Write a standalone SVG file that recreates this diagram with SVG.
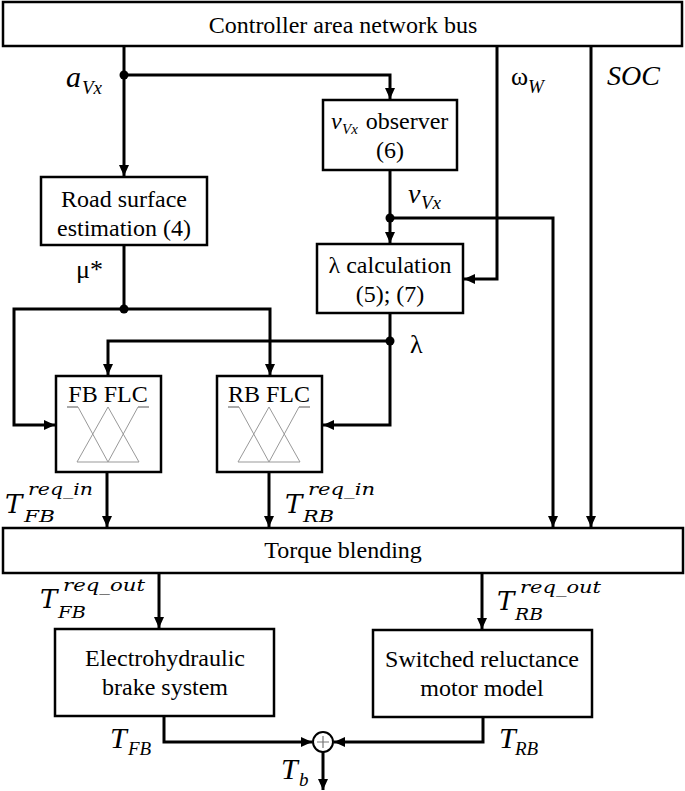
<svg xmlns="http://www.w3.org/2000/svg" width="685" height="791" viewBox="0 0 685 791">
<defs>
<marker id="ah" markerUnits="userSpaceOnUse" markerWidth="12" markerHeight="10" refX="11" refY="5" orient="auto">
<path d="M0,0 L11,5 L0,10 z" fill="#000"/>
</marker>
<style>
.box{fill:#fff;stroke:#000;stroke-width:2.5}
.ln{fill:none;stroke:#000;stroke-width:3}
.ar{fill:none;stroke:#000;stroke-width:3;marker-end:url(#ah)}
.t{font-family:"Liberation Serif","Times New Roman",Times,"DejaVu Serif",serif;font-size:24px;fill:#000;text-anchor:middle}
.it{font-family:"Liberation Serif","Times New Roman",Times,"DejaVu Serif",serif;font-style:italic;fill:#000}
.rm{font-family:"Liberation Serif","Times New Roman",Times,"DejaVu Serif",serif;fill:#000}
.cm{font-family:"DejaVu Serif",serif;font-style:italic;fill:#000}
.mf{fill:none;stroke:#999;stroke-width:1}
.sh{fill:none;stroke:#aaa;stroke-width:2}
</style>
</defs>
<g id="connectors">
<path class="ar" d="M124,46 V176"/>
<path class="ar" d="M124,75 H390 V99"/>
<path class="ar" d="M497,46 V279 H464"/>
<path class="ar" d="M591,46 V527"/>
<path class="ar" d="M390,170 V243"/>
<path class="ar" d="M390,218 H553 V527"/>
<path class="ln" d="M124,245 V309"/>
<path class="ar" d="M124,309 H14 V425 H55"/>
<path class="ar" d="M124,309 H270 V375"/>
<path class="ar" d="M390,313 V425 H323"/>
<path class="ar" d="M390,341 H108 V375"/>
<path class="ar" d="M107,472 V527"/>
<path class="ar" d="M269,472 V527"/>
<path class="ar" d="M159,573 V628"/>
<path class="ar" d="M482,573 V629"/>
<path class="ar" d="M164,716 V742 H312"/>
<path class="ar" d="M483,717 V742 H334"/>
<path class="ar" d="M323,752 V790"/>
<circle cx="124" cy="75" r="4.5" fill="#000"/>
<circle cx="390" cy="218" r="4.5" fill="#000"/>
<circle cx="124" cy="309" r="4.5" fill="#000"/>
<circle cx="390" cy="341" r="4.5" fill="#000"/>
</g>
<g id="can">
<rect class="box" x="3" y="2" width="679" height="44"/>
<text class="t" x="343" y="33">Controller area network bus</text>
</g>
<g id="observer">
<rect class="box" x="323" y="100" width="134" height="70"/>
<text class="it" x="331" y="129" font-size="24">v</text>
<text class="it" x="342" y="134" font-size="15">Vx</text>
<text class="t" x="407" y="129">observer</text>
<text class="t" x="390" y="158">(6)</text>
</g>
<g id="road">
<rect class="box" x="41" y="177" width="166" height="68"/>
<text class="t" x="124" y="207">Road surface</text>
<text class="t" x="124" y="236">estimation (4)</text>
</g>
<g id="lambda">
<rect class="box" x="317" y="244" width="146" height="69"/>
<text class="t" x="390" y="273">λ calculation</text>
<text class="t" x="390" y="302">(5); (7)</text>
</g>
<g id="fbflc">
<rect class="box" x="56" y="376" width="105" height="96"/>
<text class="t" x="108" y="402">FB FLC</text>
<path class="sh" d="M67,407 H78"/>
<path class="sh" d="M138,407 H149"/>
<path class="mf" d="M78,407 L108,462 M77,462 L108,407 L139,462 M108,462 L138,407 M77,462 H139"/>
</g>
<g id="rbflc">
<rect class="box" x="217" y="376" width="105" height="96"/>
<text class="t" x="269" y="402">RB FLC</text>
<path class="sh" d="M228,407 H239"/>
<path class="sh" d="M299,407 H310"/>
<path class="mf" d="M239,407 L269,462 M238,462 L269,407 L300,462 M269,462 L299,407 M238,462 H300"/>
</g>
<g id="blending">
<rect class="box" x="3" y="528" width="680" height="45"/>
<text class="t" x="343" y="558">Torque blending</text>
</g>
<g id="ehb">
<rect class="box" x="55" y="629" width="219" height="87"/>
<text class="t" x="165" y="666">Electrohydraulic</text>
<text class="t" x="165" y="695">brake system</text>
</g>
<g id="srm">
<rect class="box" x="373" y="630" width="219" height="87"/>
<text class="t" x="482" y="667">Switched reluctance</text>
<text class="t" x="482" y="696">motor model</text>
</g>
<g id="sum">
<circle cx="323" cy="742" r="10" fill="#fff" stroke="#000" stroke-width="2"/>
<path d="M317,742 H329 M323,736 V748" stroke="#777" stroke-width="1.2"/>
</g>
<g id="labels">
<text class="it" x="66" y="87" font-size="30">a</text>
<text class="it" x="82" y="94" font-size="19">Vx</text>
<text class="rm" x="511" y="85" font-size="26">ω</text>
<text class="it" x="528" y="93" font-size="19">W</text>
<text class="it" x="607" y="85" font-size="28">SOC</text>
<text class="it" x="408" y="203" font-size="28">v</text>
<text class="it" x="421" y="209" font-size="19">Vx</text>
<text class="rm" x="76" y="278" font-size="26">μ*</text>
<text class="rm" x="410" y="353" font-size="26">λ</text>
<text class="cm" x="5" y="513" font-size="26">T</text>
<text class="cm" x="28" y="495" font-size="17" textLength="65" lengthAdjust="spacingAndGlyphs">req_in</text>
<text class="cm" x="24" y="522" font-size="17" textLength="31" lengthAdjust="spacingAndGlyphs">FB</text>
<text class="cm" x="285" y="513" font-size="26">T</text>
<text class="cm" x="308" y="495" font-size="17" textLength="67" lengthAdjust="spacingAndGlyphs">req_in</text>
<text class="cm" x="303" y="522" font-size="17" textLength="31" lengthAdjust="spacingAndGlyphs">RB</text>
<text class="cm" x="40" y="608" font-size="26">T</text>
<text class="cm" x="63" y="591" font-size="17" textLength="82" lengthAdjust="spacingAndGlyphs">req_out</text>
<text class="cm" x="58" y="618" font-size="17" textLength="28" lengthAdjust="spacingAndGlyphs">FB</text>
<text class="cm" x="497" y="610" font-size="26">T</text>
<text class="cm" x="520" y="593" font-size="17" textLength="81" lengthAdjust="spacingAndGlyphs">req_out</text>
<text class="cm" x="515" y="620" font-size="17" textLength="28" lengthAdjust="spacingAndGlyphs">RB</text>
<text class="it" x="110" y="748" font-size="30">T</text>
<text class="it" x="128" y="755" font-size="19">FB</text>
<text class="it" x="499" y="748" font-size="30">T</text>
<text class="it" x="515" y="755" font-size="19">RB</text>
<text class="it" x="281" y="779" font-size="30">T</text>
<text class="it" x="299" y="786" font-size="19">b</text>
</g>
</svg>
